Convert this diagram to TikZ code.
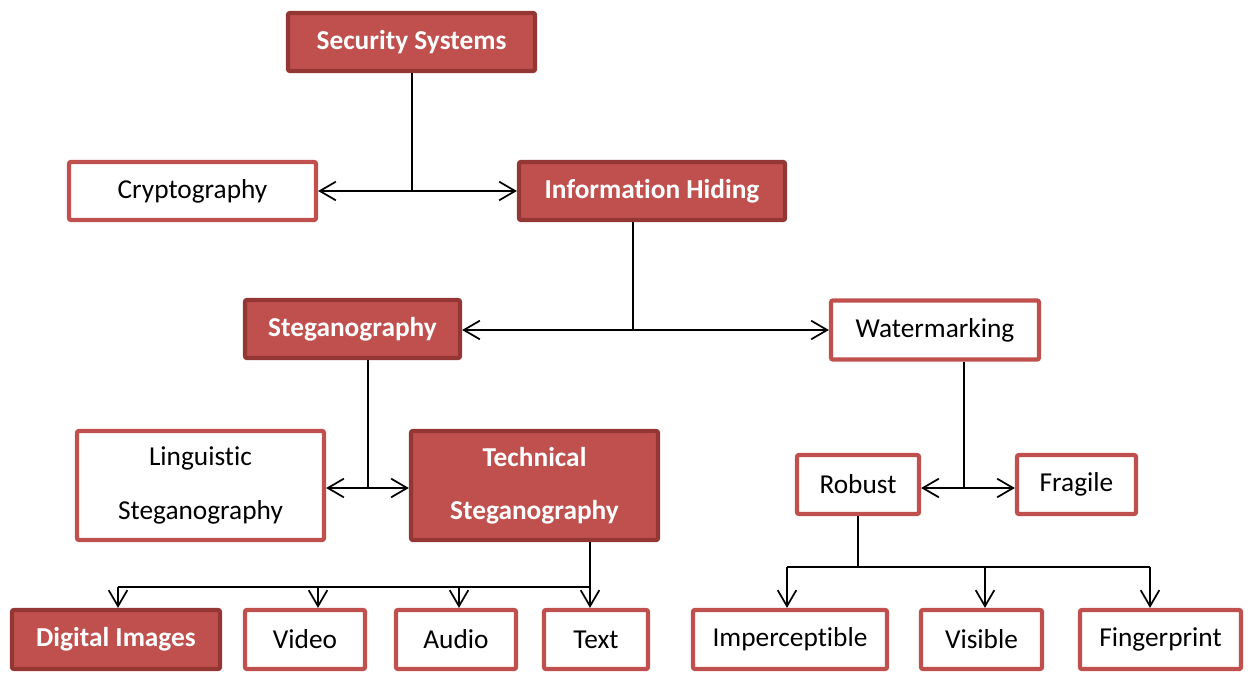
\documentclass[tikz,border=0pt]{standalone}
\usepackage{fontspec}
\setmainfont{Carlito}[Ligatures={NoCommon}]
\usetikzlibrary{arrows.meta}
\definecolor{boxred}{HTML}{C0504D}
\definecolor{boxdark}{HTML}{943634}
\begin{document}
\begin{tikzpicture}[x=0.75pt,y=-0.75pt,
  base/.style={rectangle,rounded corners=1.5pt,line width=3.2pt,inner sep=0pt,
    align=center,font=\fontsize{20.5}{40}\selectfont},
  hot/.style={base,fill=boxred,draw=boxdark,text=white,font=\fontsize{20.5}{40}\selectfont\bfseries},
  plain/.style={base,fill=white,draw=boxred,text=black},
  conn/.style={line width=1.5pt,black},
  tip/.style={conn,-{Straight Barb[length=12pt,width=14pt,line width=1.3pt]}},
  both/.style={conn,{Straight Barb[length=12pt,width=14pt,line width=1.3pt]}-{Straight Barb[length=12pt,width=14pt,line width=1.3pt]}}]
\useasboundingbox (0,0) rectangle (1253,674);

% boxes (sizes given in pixels of the drawing grid, border excluded)
\node[hot,  minimum width=247*0.75pt, minimum height=58*0.75pt] (sec)  at (411.5,42)   {Security Systems};
\node[plain,minimum width=247*0.75pt, minimum height=58*0.75pt] (cry)  at (192.5,191)  {Cryptography};
\node[hot,  minimum width=266*0.75pt, minimum height=58*0.75pt] (ih)   at (652,191)    {Information Hiding};
\node[hot,  minimum width=215*0.75pt, minimum height=58*0.75pt] (steg) at (352.5,329)  {Steganography};
\node[plain,minimum width=208*0.75pt, minimum height=59*0.75pt] (wm)   at (935,330)    {Watermarking};
\node[plain,minimum width=247*0.75pt, minimum height=109*0.75pt] (ling) at (200.5,485.5) {Linguistic\\Steganography};
\node[hot,  minimum width=247*0.75pt, minimum height=109*0.75pt] (tech) at (534.5,485.5) {Technical\\Steganography};
\node[plain,minimum width=122*0.75pt, minimum height=59*0.75pt] (rob)  at (858,484.5)  {Robust};
\node[plain,minimum width=119*0.75pt, minimum height=59*0.75pt] (frag) at (1076.5,484.5) {Fragile};
\node[hot,  minimum width=208*0.75pt, minimum height=59*0.75pt] (dig)  at (116,639.5)  {Digital Images};
\node[plain,minimum width=120*0.75pt, minimum height=59*0.75pt] (vid)  at (305,639.5)  {Video};
\node[plain,minimum width=120*0.75pt, minimum height=59*0.75pt] (aud)  at (456,639.5)  {Audio};
\node[plain,minimum width=104*0.75pt, minimum height=59*0.75pt] (txt)  at (596,639.5)  {Text};
\node[plain,minimum width=194*0.75pt, minimum height=59*0.75pt] (imp)  at (790,639.5)  {Imperceptible};
\node[plain,minimum width=121*0.75pt, minimum height=59*0.75pt] (vis)  at (981.5,639.5) {Visible};
\node[plain,minimum width=161*0.75pt, minimum height=59*0.75pt] (fin)  at (1160.5,639.5) {Fingerprint};

% junction points
\coordinate (j1) at (412,191);
\coordinate (j2) at (633,330);
\coordinate (j3) at (368,488);
\coordinate (j4) at (964,488);
\coordinate (b1) at (590,587);
\coordinate (bd) at (118,587);
\coordinate (bv) at (318,587);
\coordinate (ba) at (459,587);
\coordinate (r1) at (858,567);
\coordinate (ri) at (787,567);
\coordinate (rv) at (985,567);
\coordinate (rf) at (1150,567);

% level connectors
\draw[conn] (sec.south -| j1) -- (j1);
\draw[both] (cry.east |- j1) -- (ih.west |- j1);
\draw[conn] (ih.south -| j2) -- (j2);
\draw[both] (steg.east |- j2) -- (wm.west |- j2);
\draw[conn] (steg.south -| j3) -- (j3);
\draw[both] (ling.east |- j3) -- (tech.west |- j3);
\draw[conn] (wm.south -| j4) -- (j4);
\draw[both] (rob.east |- j4) -- (frag.west |- j4);

% media branches
\draw[conn] (tech.south -| b1) -- (b1) -- (bd);
\draw[tip] (bd) -- (dig.north -| bd);
\draw[tip] (bv) -- (vid.north -| bv);
\draw[tip] (ba) -- (aud.north -| ba);
\draw[tip] (b1) -- (txt.north -| b1);

% robustness branches
\draw[conn] (rob.south -| r1) -- (r1);
\draw[conn] (ri) -- (rf);
\draw[tip] (ri) -- (imp.north -| ri);
\draw[tip] (rv) -- (vis.north -| rv);
\draw[tip] (rf) -- (fin.north -| rf);
\end{tikzpicture}
\end{document}
